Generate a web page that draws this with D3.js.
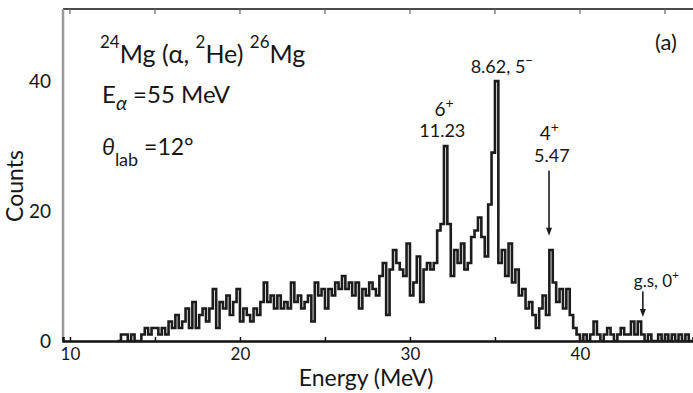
<!DOCTYPE html>
<html>
<head>
<meta charset="utf-8">
<script src="https://cdn.jsdelivr.net/npm/d3@7"></script>
<style>
  body { margin: 0; background: #fff; }
  text { font-family: Lato, "Open Sans", sans-serif; fill: #161616; }
</style>
</head>
<body>
<svg id="chart"></svg>
<script>
// spectrum: counts per 0.2 MeV bin, first bin starts at 12.8 MeV
const binStart = 12.8;
const binWidth = 0.2;
const counts = [
  0, 1, 1, 0, 1, 0, 0, 1, 2, 1,        // 12.8 - 14.6
  2, 2, 1, 2, 1, 3, 2, 4, 2, 3,        // 14.8 - 16.6
  5, 2, 6, 2, 4, 5, 3, 5, 8, 2,        // 16.8 - 18.6
  6, 5, 7, 4, 6, 8, 3, 5, 4, 3,        // 18.8 - 20.6
  5, 4, 6, 9, 6, 7, 5, 7, 5, 6,        // 20.8 - 22.6
  5, 9, 6, 7, 5, 6, 7, 3, 9, 7,        // 22.8 - 24.6
  8, 5, 8, 7, 9, 8, 10, 8, 9, 7,       // 24.8 - 26.6
  9, 5, 8, 7, 9, 8, 7, 10, 12, 4,      // 26.8 - 28.6
  11, 14, 12, 11, 10, 15, 7, 9, 13, 6, // 28.8 - 30.6
  11, 12, 11, 12, 17, 18, 30, 18, 10, 14, // 30.8 - 32.6
  12, 15, 11, 12, 16, 17, 19, 16, 13, 21, // 32.8 - 34.6
  29, 40, 12, 14, 10, 15, 9, 11, 7, 8, // 34.8 - 36.6
  5, 6, 4, 2, 5, 7, 4, 14, 9, 6,       // 36.8 - 38.6
  8, 5, 8, 4, 2, 1, 0, 1, 0, 1,        // 38.8 - 40.6
  3, 1, 0, 1, 2, 1, 0, 1, 2, 1,        // 40.8 - 42.6
  1, 3, 1, 3, 1, 0, 1, 0, 0, 1,        // 42.8 - 44.6
  0, 1, 0, 1, 0, 1, 0, 1, 0            // 44.8 - 46.4
];
const xTickValues = [10, 15, 20, 25, 30, 35, 40, 45];
const xLabelValues = [10, 20, 30, 40];
const yTickValues = [0, 20, 40];

const width = 693, height = 393;
const margin = { top: 9, right: 0, bottom: 52, left: 63 };

const svg = d3.select('#chart')
  .attr('width', width)
  .attr('height', height);

const x = d3.scaleLinear()
  .domain([9.59, 46.65])
  .range([margin.left, width - margin.right]);

const y = d3.scaleLinear()
  .domain([0, 51.1])
  .range([height - margin.bottom, margin.top]);

// frame: top line and left line
svg.append('line')
  .attr('x1', margin.left).attr('x2', width)
  .attr('y1', margin.top).attr('y2', margin.top)
  .attr('stroke', '#4a4a4a').attr('stroke-width', 2);

svg.append('line')
  .attr('x1', margin.left).attr('x2', margin.left)
  .attr('y1', margin.top).attr('y2', y(0))
  .attr('stroke', '#9a9a9a').attr('stroke-width', 2.5);

// top ticks
svg.append('g')
  .selectAll('line')
  .data(xTickValues)
  .enter()
  .append('line')
  .attr('x1', d => x(d)).attr('x2', d => x(d))
  .attr('y1', margin.top).attr('y2', margin.top + 5)
  .attr('stroke', '#666').attr('stroke-width', 1.2);

// bottom axis
const xAxis = svg.append('g')
  .attr('transform', `translate(0,${y(0)})`)
  .call(d3.axisBottom(x)
    .tickValues(xTickValues)
    .tickSize(-4)
    .tickPadding(7)
    .tickFormat(d => xLabelValues.includes(d) ? d : ''));

xAxis.select('.domain').attr('stroke', '#111').attr('stroke-width', 2.5);
xAxis.selectAll('.tick line').attr('stroke', '#111').attr('stroke-width', 1.5);
xAxis.selectAll('.tick text')
  .style('font-size', '17px')
  .attr('fill', '#161616');

// left axis labels
const yAxis = svg.append('g')
  .attr('transform', `translate(${margin.left},0)`)
  .call(d3.axisLeft(y).tickValues(yTickValues).tickSize(0).tickPadding(12));

yAxis.select('.domain').remove();
yAxis.selectAll('.tick text')
  .style('font-size', '19px')
  .attr('fill', '#161616');

// histogram
const points = counts.map((c, i) => [binStart + i * binWidth, c]);
points.push([binStart + counts.length * binWidth, counts[counts.length - 1]]);

const line = d3.line()
  .x(d => x(d[0]))
  .y(d => y(d[1]))
  .curve(d3.curveStepAfter);

svg.append('path')
  .datum(points)
  .attr('fill', 'none')
  .attr('stroke', '#1c1c1c')
  .attr('stroke-width', 2.6)
  .attr('stroke-linejoin', 'miter')
  .attr('d', line);

// axis titles
svg.append('text')
  .attr('x', 366).attr('y', 386)
  .attr('text-anchor', 'middle')
  .style('font-size', '23px')
  .text('Energy (MeV)');

svg.append('text')
  .attr('transform', 'translate(23,186) rotate(-90)')
  .attr('text-anchor', 'middle')
  .style('font-size', '23px')
  .text('Counts');

// reaction text
const title = svg.append('text')
  .attr('x', 100).attr('y', 63)
  .style('font-size', '25px');
title.append('tspan').attr('dy', -15).style('font-size', '17px').text('24');
title.append('tspan').attr('dy', 15).text('Mg (α, ');
title.append('tspan').attr('dy', -15).style('font-size', '17px').text('2');
title.append('tspan').attr('dy', 15).text('He) ');
title.append('tspan').attr('dy', -15).style('font-size', '17px').text('26');
title.append('tspan').attr('dy', 15).text('Mg');

const energy = svg.append('text')
  .attr('x', 102).attr('y', 103)
  .style('font-size', '24px');
energy.append('tspan').text('E');
energy.append('tspan').attr('dy', 7).style('font-size', '20px').style('font-style', 'italic').text('α');
energy.append('tspan').attr('dy', -7).text(' =55 MeV');

const angle = svg.append('text')
  .attr('x', 102).attr('y', 155)
  .style('font-size', '23px');
angle.append('tspan').style('font-style', 'italic').text('θ');
angle.append('tspan').attr('dy', 11).style('font-size', '18px').text('lab');
angle.append('tspan').attr('dy', -11).text(' =12°');

svg.append('text')
  .attr('x', 666).attr('y', 50)
  .attr('text-anchor', 'middle')
  .style('font-size', '22px')
  .text('(a)');

// peak labels
function label(xPos, yPos, main, sup, size) {
  const t = svg.append('text')
    .attr('x', xPos).attr('y', yPos)
    .attr('text-anchor', 'middle')
    .style('font-size', size + 'px');
  t.append('tspan').text(main);
  if (sup) t.append('tspan').attr('dy', -8).style('font-size', (size - 5) + 'px').text(sup);
}

label(x(35.4), y(41.3), '8.62, 5', '−', 18);
label(x(32.0), y(34.6), '6', '+', 19);
label(x(31.9), y(31.4), '11.23', null, 18);
label(x(38.2), y(31.0), '4', '+', 19);
label(x(38.35), y(27.5), '5.47', null, 18);
label(x(44.5), y(8.3), 'g.s, 0', '+', 17);

// arrows
function arrow(e, from, to) {
  svg.append('line')
    .attr('x1', x(e)).attr('x2', x(e))
    .attr('y1', y(from)).attr('y2', y(to) - 6)
    .attr('stroke', '#1c1c1c').attr('stroke-width', 1.6);
  svg.append('path')
    .attr('d', `M${x(e) - 3},${y(to) - 8} L${x(e) + 3},${y(to) - 8} L${x(e)},${y(to)} Z`)
    .attr('fill', '#1c1c1c');
}

arrow(38.18, 26.2, 16.2);
arrow(43.7, 7.6, 3.7);
</script>
</body>
</html>
